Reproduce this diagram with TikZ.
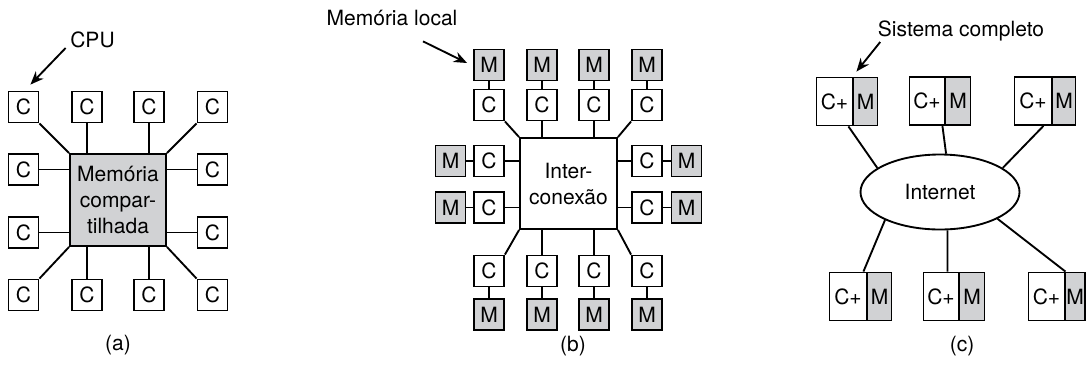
\documentclass[tikz,border=0pt]{standalone}
\usepackage{fontspec}
\setmainfont{TeX Gyre Heros}
\usetikzlibrary{arrows.meta,shapes.geometric,calc}
\definecolor{memgray}{RGB}{209,210,212}
\begin{document}
\begin{tikzpicture}[x=0.75pt,y=-0.75pt,
  every node/.style={font=\fontsize{15.75}{19.5}\selectfont},
  lbl/.style={text height=0.72em, text depth=0.2em},
  box/.style={draw, line width=1.4pt, inner sep=0pt, minimum width={30*0.75pt}, minimum height={31*0.75pt}},
  mbox/.style={box, fill=memgray},
  cp/.style={draw, line width=1.4pt, inner sep=0pt, minimum height={48*0.75pt}},
  mp/.style={cp, fill=memgray},
  link/.style={line width=1.4pt},
  arr/.style={line width=1.4pt, -{Stealth[length=10pt,width=8pt]}},
]
\useasboundingbox (0,0) rectangle (1087,369);

% ---------- (a) ----------
\node[box] (a1) at (23.5,107) {C};
\node[box] (a2) at (87,107) {C};
\node[box] (a3) at (149,107) {C};
\node[box] (a4) at (212.5,107) {C};
\node[box] (a5) at (23.5,169.5) {C};
\node[box] (a6) at (212.5,169.5) {C};
\node[box] (a7) at (23.5,232.5) {C};
\node[box] (a8) at (212.5,232.5) {C};
\node[box] (a9) at (23.5,295) {C};
\node[box] (a10) at (87,295) {C};
\node[box] (a11) at (149,295) {C};
\node[box] (a12) at (212.5,295) {C};
\node[box, fill=memgray, minimum width={96*0.75pt}, minimum height={92*0.75pt}, align=center] (mem) at (118,200) {Memória\\compar-\\tilhada};

\draw[link] (a1.south east) -- (mem.north west);
\draw[link] (a2) -- (a2 |- mem.north);
\draw[link] (a3) -- (a3 |- mem.north);
\draw[link] (a4.south west) -- (mem.north east);
\draw[link] (a5) -- (a5 -| mem.west);
\draw[link] (a6) -- (a6 -| mem.east);
\draw[link] (a7) -- (a7 -| mem.west);
\draw[link] (a8) -- (a8 -| mem.east);
\draw[link] (a9.north east) -- (mem.south west);
\draw[link] (a10) -- (a10 |- mem.south);
\draw[link] (a11) -- (a11 |- mem.south);
\draw[link] (a12.north west) -- (mem.south east);

\node[lbl] (cpu) at (92.5,44.5) {CPU};
\draw[arr] ([shift={(0,3.5)}]cpu.west) -- ([shift={(-9,-6)}]a1.north east);

\node[lbl] (la) at (118,347) {(a)};

% ---------- (b) ----------
\foreach \i/\x in {1/489,2/542,3/594,4/647}{
  \node[mbox] (mt\i) at (\x,65) {M};
  \node[box] (ct\i) at (\x,105) {C};
  \draw[link] (mt\i) -- (ct\i);
  \node[box] (cb\i) at (\x,271) {C};
  \node[mbox] (mb\i) at (\x,314.5) {M};
  \draw[link] (cb\i) -- (mb\i);
}
\node[box, minimum width={97*0.75pt}, minimum height={91*0.75pt}, align=center] (ic) at (568.5,183.5) {Inter-\\conexão};

\draw[link] (ct1.south east) -- (ic.north west);
\draw[link] (ct2) -- (ct2 |- ic.north);
\draw[link] (ct3) -- (ct3 |- ic.north);
\draw[link] (ct4.south west) -- (ic.north east);
\draw[link] (cb1.north east) -- (ic.south west);
\draw[link] (cb2) -- (cb2 |- ic.south);
\draw[link] (cb3) -- (cb3 |- ic.south);
\draw[link] (cb4.north west) -- (ic.south east);

\foreach \i/\y in {1/161,2/207.5}{
  \node[mbox] (ml\i) at (450.5,\y) {M};
  \node[box] (cl\i) at (489,\y) {C};
  \node[box] (cr\i) at (647,\y) {C};
  \node[mbox] (mr\i) at (686.5,\y) {M};
  \draw[link] (ml\i) -- (cl\i);
  \draw[link] (cl\i) -- (cl\i -| ic.west);
  \draw[link] (cr\i) -- (cr\i -| ic.east);
  \draw[link] (cr\i) -- (mr\i);
}

\node[lbl] (mloc) at (392,22.5) {Memória local};
\draw[arr] ([shift={(31,8)}]mloc.south) -- ([shift={(-6,-2)}]mt1.west);

\node[lbl] (lb) at (573,348) {(b)};

% ---------- (c) ----------
\node[cp, minimum width={36*0.75pt}] (c1) at (834.5,101.5) {C+};
\node[mp, minimum width={24*0.75pt}] (m1) at (865.5,101.5) {M};
\node[cp, minimum width={35*0.75pt}] (c2) at (927,101) {C+};
\node[mp, minimum width={25*0.75pt}] (m2) at (958,101) {M};
\node[cp, minimum width={37*0.75pt}] (c3) at (1033,101) {C+};
\node[mp, minimum width={23*0.75pt}] (m3) at (1064,101) {M};
\node[cp, minimum width={37*0.75pt}] (c4) at (848,296.5) {C+};
\node[mp, minimum width={24*0.75pt}] (m4) at (879.5,296.5) {M};
\node[cp, minimum width={35*0.75pt}] (c5) at (941,296.5) {C+};
\node[mp, minimum width={25*0.75pt}] (m5) at (972,296.5) {M};
\node[cp, minimum width={36*0.75pt}] (c6) at (1046.5,296.5) {C+};
\node[mp, minimum width={20*0.75pt}] (m6) at (1075,296.5) {M};

\node[draw, ellipse, line width=1.4pt, inner sep=0pt, minimum width={159*0.75pt}, minimum height={75*0.75pt}] (inet) at (940,192) {Internet};

\draw[link] ($(c1.south east)+(-5,0)$) -- (inet.159);
\draw[link] ($(c2.south east)+(-3,0)$) -- (inet.81);
\draw[link] ($(c3.south east)+(-9,0)$) -- (inet.21);
\draw[link] ($(c4.north east)+(-4,0)$) -- (inet.207);
\draw[link] ($(c5.north east)+(-12,0)$) -- (inet.281);
\draw[link] (c6.north east) -- (inet.335);

\node[lbl] (sc) at (961,33.5) {Sistema completo};
\draw[arr] ([shift={(7,8.5)}]sc.west) -- ([shift={(3,-5)}]c1.north east);

\node[lbl] (lc) at (962,348) {(c)};
\end{tikzpicture}
\end{document}
